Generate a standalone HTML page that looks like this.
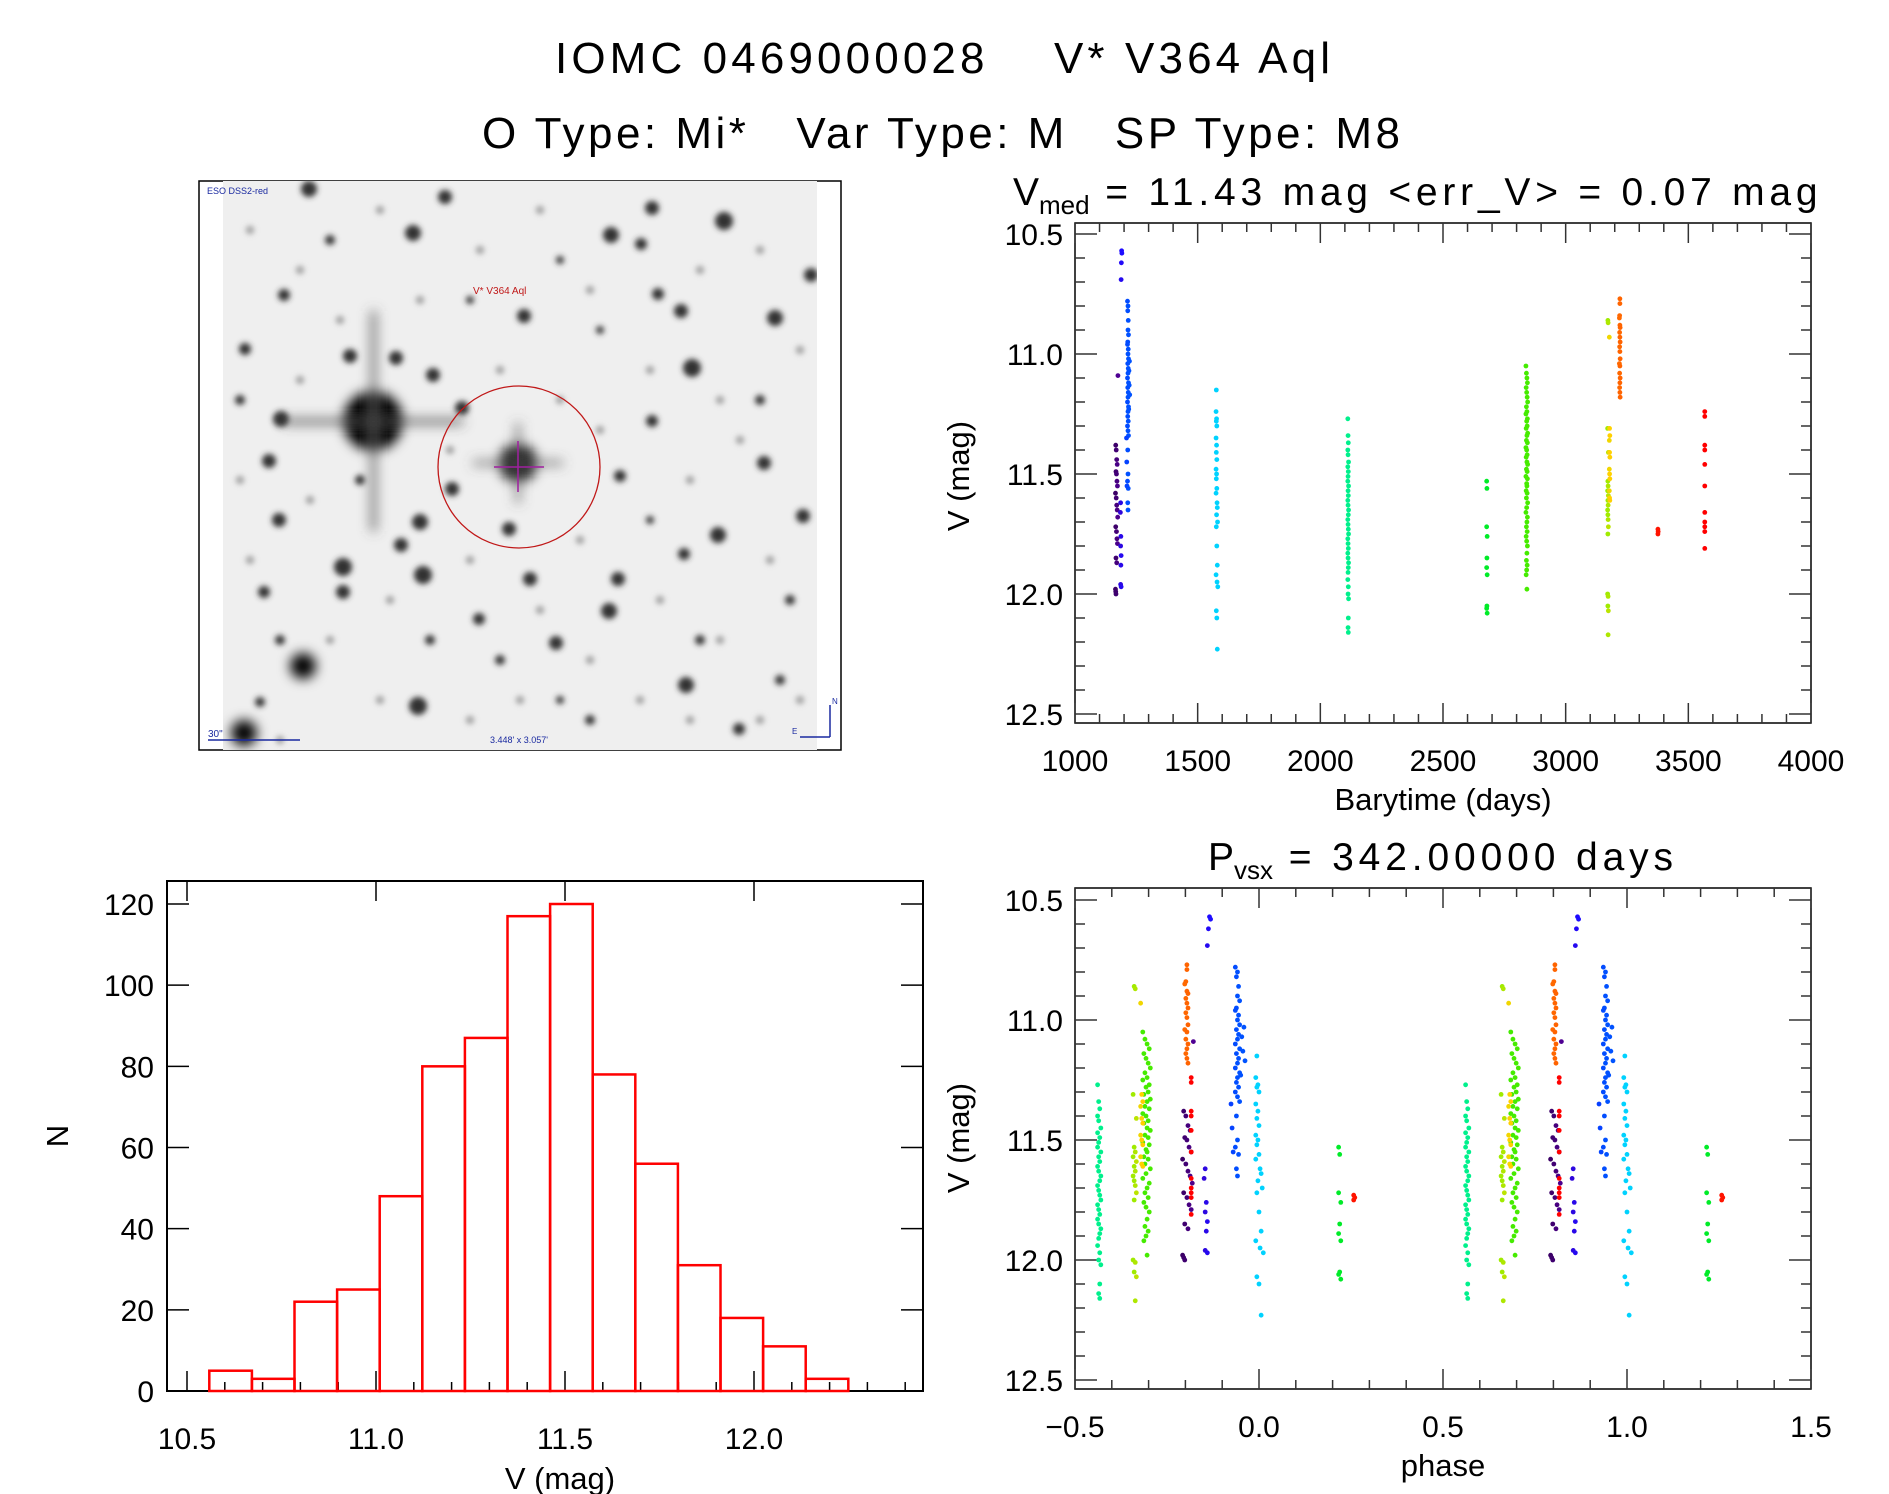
<!DOCTYPE html>
<html><head><meta charset="utf-8"><title>IOMC 0469000028 V* V364 Aql</title>
<style>
html,body{margin:0;padding:0;background:#fff;}
svg{display:block;font-family:"Liberation Sans",sans-serif;}
text{white-space:pre;}
</style></head>
<body>
<svg id="fig" width="1889" height="1494" viewBox="0 0 1889 1494" xmlns="http://www.w3.org/2000/svg" xml:space="preserve">
<defs>
  <filter id="blur2" x="-50%" y="-50%" width="200%" height="200%"><feGaussianBlur stdDeviation="3"/></filter>
  <filter id="blur5" x="-50%" y="-50%" width="200%" height="200%"><feGaussianBlur stdDeviation="6"/></filter>
  <clipPath id="imgclip"><rect x="223" y="181" width="594" height="569"/></clipPath>
</defs>
<text x="555" y="73" font-size="44" textLength="775" lengthAdjust="spacing">IOMC 0469000028    V* V364 Aql</text>
<text x="482" y="148" font-size="44" textLength="918" lengthAdjust="spacing">O Type: Mi*   Var Type: M   SP Type: M8</text>

<g>
  <rect x="199" y="181" width="642" height="569" fill="#fff" stroke="#000" stroke-width="1.5"/>
  <rect x="223" y="181" width="594" height="569" fill="#efefef"/>
  <g id="stars" clip-path="url(#imgclip)"></g>
  <circle cx="519" cy="467" r="81" fill="none" stroke="#c01818" stroke-width="1.3"/>
  <line x1="518" y1="441" x2="518" y2="492" stroke="#a020a0" stroke-width="1.5"/>
  <line x1="494" y1="467" x2="544" y2="467" stroke="#a020a0" stroke-width="1.5"/>
  <text x="473" y="294" font-size="10" fill="#c01818">V* V364 Aql</text>
  <text x="207" y="194" font-size="9" fill="#1a2aa0">ESO DSS2-red</text>
  <line x1="208" y1="740" x2="300" y2="740" stroke="#1a2aa0" stroke-width="1.5"/>
  <text x="208" y="737" font-size="10" fill="#1a2aa0">30"</text>
  <text x="490" y="743" font-size="9" fill="#1a2aa0">3.448' x 3.057'</text>
  <path d="M830 737 L830 705 M830 737 L800 737" stroke="#1a2aa0" stroke-width="1.5" fill="none"/>
  <text x="832" y="704" font-size="8" fill="#1a2aa0">N</text>
  <text x="792" y="734" font-size="8" fill="#1a2aa0">E</text>
</g>

<g id="lc"></g>
<g id="ph"></g>
<g id="hist"></g>
</svg>
<script>
// ---------- data: light curve (barytime days, V mag) ----------
const tPurple=[1166,1168,1170,1172,1167,1169,1171,1173,1165,1168,1170,1172,1174,1166,1169,1171,1173,1167,1170,1165,1166,1167,1175];
const mPurple=[11.38,11.40,11.44,11.46,11.49,11.50,11.53,11.55,11.58,11.60,11.63,11.65,11.68,11.72,11.74,11.77,11.79,11.85,11.87,11.98,11.99,12.00,11.09];
const tViolet=[1190,1191,1189,1188,1186,1185,1187,1186,1188,1187,1186,1188];
const mViolet=[10.57,10.58,10.62,10.69,11.62,11.66,11.76,11.80,11.84,11.88,11.96,11.97];
const tBlue=[1214,1216,1215,1217,1216,1218,1215,1214,1217,1216,1218,1215,1217,1216,1214,1218,1215,1217,1216,1214,1218,1216,1215,1217,1214,1216,1218,1215,1216,1214,1217,1215,1216,1222,1220,1221,1223,1219,1210,1211,1212];
const mBlue=[10.78,10.80,10.82,10.86,10.90,10.92,10.95,10.96,10.98,11.00,11.02,11.04,11.06,11.08,11.10,11.12,11.14,11.16,11.18,11.20,11.22,11.24,11.26,11.28,11.30,11.32,11.34,11.40,11.50,11.53,11.56,11.62,11.65,11.03,11.07,11.13,11.17,11.23,11.35,11.45,11.55];
const tCyan=[1576,1575,1577,1576,1578,1575,1577,1576,1578,1575,1577,1576,1578,1575,1579,1580,1577,1581,1576,1578,1580,1575,1579,1582,1576,1578,1580];
const mCyan=[11.15,11.24,11.27,11.28,11.30,11.35,11.38,11.41,11.44,11.48,11.50,11.52,11.56,11.58,11.62,11.64,11.67,11.70,11.72,11.80,11.88,11.92,11.95,11.97,12.07,12.10,12.23];
const tTeal=[2112,2113,2114,2112,2113,2115,2112,2114,2113,2112,2115,2113,2114,2112,2113,2115,2114,2112,2113,2114,2115,2112,2113,2114,2112,2113,2115,2114,2113,2112,2114,2113,2115,2114,2113,2114];
const mTeal=[11.27,11.34,11.37,11.40,11.42,11.45,11.47,11.49,11.51,11.53,11.55,11.57,11.59,11.61,11.63,11.65,11.67,11.69,11.71,11.73,11.75,11.77,11.79,11.81,11.83,11.85,11.87,11.89,11.91,11.94,11.97,12.00,12.02,12.10,12.14,12.16];
const tGreen1=[2678,2679,2678,2680,2679,2678,2680,2679,2678,2680];
const mGreen1=[11.53,11.56,11.72,11.76,11.85,11.89,11.92,12.05,12.06,12.08];
const tGreen2=[2838,2840,2842,2844,2839,2841,2843,2845,2840,2842,2838,2844,2841,2843,2839,2845,2842,2840,2844,2838,2841,2843,2839,2842,2845,2840,2843,2838,2844,2841,2842,2839,2843,2840,2845,2841,2838,2844,2842,2840,2843,2839,2841,2844,2842,2840,2843,2841,2839,2842];
const mGreen2=[11.05,11.08,11.10,11.12,11.14,11.16,11.18,11.20,11.22,11.24,11.25,11.27,11.28,11.30,11.31,11.33,11.34,11.36,11.37,11.39,11.40,11.42,11.43,11.45,11.46,11.48,11.49,11.51,11.52,11.54,11.55,11.57,11.58,11.60,11.62,11.64,11.66,11.68,11.70,11.72,11.74,11.76,11.78,11.80,11.83,11.86,11.88,11.90,11.92,11.98];
const tLime=[3172,3173,3171,3174,3172,3173,3171,3174,3172,3173,3171,3172,3173,3174,3172,3171,3173,3172,3174,3173];
const mLime=[10.86,10.87,11.31,11.41,11.53,11.55,11.57,11.59,11.61,11.63,11.65,11.67,11.69,11.72,11.75,12.00,12.01,12.05,12.07,12.17];
const tYellow=[3178,3179,3180,3178,3179,3180,3178,3179,3180,3178,3179,3180];
const mYellow=[10.93,11.31,11.34,11.36,11.41,11.43,11.48,11.50,11.52,11.57,11.60,11.61];
const tOrange=[3221,3221,3220,3219,3221,3222,3220,3221,3222,3220,3221,3222,3219,3221,3220,3222,3221,3220,3221,3222];
const mOrange=[10.77,10.79,10.84,10.85,10.88,10.89,10.91,10.93,10.95,10.97,10.99,11.02,11.04,11.05,11.08,11.10,11.12,11.14,11.16,11.18];
const tRed1=[3376,3377,3376];
const mRed1=[11.73,11.74,11.75];
const tRed2=[3567,3567,3567,3567,3567,3567,3567,3567,3567,3567,3567];
const mRed2=[11.24,11.26,11.38,11.40,11.46,11.55,11.66,11.70,11.72,11.74,11.81];
// period and epoch
const period=342.0;
const epoch=1236;
// ---------- data: histogram ----------
const histStart=10.559;
const histWidth=0.1127;
const histCounts=[5,3,22,25,48,80,87,117,120,78,56,31,18,11,3];
const lcXTicks=[1000,1500,2000,2500,3000,3500,4000];
const magTicks=["10.5","11.0","11.5","12.0","12.5"];
const phTicks=["\u22120.5","0.0","0.5","1.0","1.5"];
const histXTicks=["10.5","11.0","11.5","12.0"];
const histYTicks=[0,20,40,60,80,100,120];

const NS="http://www.w3.org/2000/svg";
function mk(parent,tag,attrs,txt){const e=document.createElementNS(NS,tag);for(const k in attrs)e.setAttribute(k,attrs[k]);if(txt!==undefined)e.textContent=txt;parent.appendChild(e);return e;}

// colour ramp over time (style, not data)
const stops=[[1160,[50,0,80]],[1176,[80,0,150]],[1190,[30,10,255]],[1216,[0,80,255]],[1575,[0,210,255]],[2113,[0,240,140]],[2679,[0,235,40]],[2842,[70,235,0]],[3172,[160,235,0]],[3179,[255,210,0]],[3221,[255,100,0]],[3376,[255,20,0]],[3567,[255,0,0]]];
function colorOf(t){
  if(t<=stops[0][0])return 'rgb('+stops[0][1].join(',')+')';
  for(let i=1;i<stops.length;i++){if(t<=stops[i][0]){const a=stops[i-1],b=stops[i];const f=(t-a[0])/(b[0]-a[0]);const c=a[1].map((v,j)=>Math.round(v+(b[1][j]-v)*f));return 'rgb('+c.join(',')+')';}}
  return 'rgb(255,0,0)';
}
const allT=[].concat(tPurple,tViolet,tBlue,tCyan,tTeal,tGreen1,tGreen2,tLime,tYellow,tOrange,tRed1,tRed2);
const allM=[].concat(mPurple,mViolet,mBlue,mCyan,mTeal,mGreen1,mGreen2,mLime,mYellow,mOrange,mRed1,mRed2);

// ---------- generic right-hand panel frame ----------
const PX0=1075,PX1=1811;
function magFrame(g,top,bottom,m0y){
  mk(g,'rect',{x:PX0,y:top,width:PX1-PX0,height:bottom-top,fill:'none',stroke:'#000','stroke-width':1.5});
  const ys=m=>m0y+(m-10.5)*240;
  for(let k=0;k<=20;k++){const m=10.5+k*0.1;const y=ys(m);if(y>bottom)break;const major=k%5===0;const L=major?22:10;
    mk(g,'line',{x1:PX0,y1:y,x2:PX0+L,y2:y,stroke:'#333','stroke-width':1.5});
    mk(g,'line',{x1:PX1,y1:y,x2:PX1-L,y2:y,stroke:'#333','stroke-width':1.5});}
  magTicks.forEach((s,i)=>{const t=mk(g,'text',{x:1063,y:ys(parseFloat(s))+11,'font-size':30,'text-anchor':'end'},s);
    
    });
  return ys;
}

// ---------- light curve ----------
(function(){
  const g=document.getElementById('lc');
  const ys=magFrame(g,223,723,234);
  const xs=t=>PX0+(t-1000)/3000*(PX1-PX0);
  for(let t=1000;t<=4000;t+=100){const x=xs(t);const major=(t%500===0);const L=major?20:9;
    mk(g,'line',{x1:x,y1:723,x2:x,y2:723-L,stroke:'#333','stroke-width':1.5});
    mk(g,'line',{x1:x,y1:223,x2:x,y2:223+L,stroke:'#333','stroke-width':1.5});}
  lcXTicks.forEach(v=>{const t=mk(g,'text',{x:xs(v),y:771,'font-size':30,'text-anchor':'middle'},String(v));
    
    });
  const xl=mk(g,'text',{x:1443,y:810,'font-size':31,'text-anchor':'middle'},'Barytime (days)');
  
  
  const yl=mk(g,'text',{x:0,y:0,'font-size':31,'text-anchor':'middle',transform:'translate(969,476) rotate(-90)'},'V (mag)');
  
  
  const ti=mk(g,'text',{x:1013,y:205,'font-size':39});
  
  
  mk(ti,'tspan',{},'V');
  mk(ti,'tspan',{'font-size':26,dy:9},'med');
  mk(ti,'tspan',{dy:-9,textLength:728,lengthAdjust:'spacing'},' = 11.43 mag <err_V> = 0.07 mag');
  for(let i=0;i<allT.length;i++){
    const c=mk(g,'circle',{cx:xs(allT[i]),cy:ys(allM[i]),r:2.4,fill:colorOf(allT[i])});
    
    
  }
})();

// ---------- phase plot ----------
(function(){
  const g=document.getElementById('ph');
  const ys=magFrame(g,888,1389,900);
  const xs=p=>PX0+(p+0.5)/2*(PX1-PX0);
  for(let k=0;k<=20;k++){const p=-0.5+k*0.1;const x=xs(p);const major=k%5===0;const L=major?20:9;
    mk(g,'line',{x1:x,y1:1389,x2:x,y2:1389-L,stroke:'#333','stroke-width':1.5});
    mk(g,'line',{x1:x,y1:888,x2:x,y2:888+L,stroke:'#333','stroke-width':1.5});}
  phTicks.forEach((s,i)=>{const t=mk(g,'text',{x:xs(-0.5+i*0.5),y:1437,'font-size':30,'text-anchor':'middle'},s);
    
    });
  const xl=mk(g,'text',{x:1443,y:1476,'font-size':31,'text-anchor':'middle'},'phase');
  
  
  const yl=mk(g,'text',{x:0,y:0,'font-size':31,'text-anchor':'middle',transform:'translate(969,1138) rotate(-90)'},'V (mag)');
  
  
  const ti=mk(g,'text',{x:1208,y:870,'font-size':39});
  
  
  mk(ti,'tspan',{},'P');
  mk(ti,'tspan',{'font-size':26,dy:9},'vsx');
  mk(ti,'tspan',{dy:-9,textLength:400,lengthAdjust:'spacing'},' = 342.00000 days');
  for(let i=0;i<allT.length;i++){
    let ph=(allT[i]-epoch)/period;ph=ph-Math.floor(ph);if(ph>=0.5)ph-=1;
    [ph,ph+1].forEach(p=>{
      const c=mk(g,'circle',{cx:xs(p),cy:ys(allM[i]),r:2.4,fill:colorOf(allT[i])});
      
      
    });
  }
})();

// ---------- histogram ----------
(function(){
  const g=document.getElementById('hist');
  const L=167,R=923,T=881,B=1391;
  const xs=v=>187+(v-10.5)*378;
  const ys=n=>B-n*(B-904)/120;
  mk(g,'rect',{x:L,y:T,width:R-L,height:B-T,fill:'none',stroke:'#000','stroke-width':2});
  for(let k=0;k<=19;k++){const v=10.5+k*0.1;const x=xs(v);if(x>R)break;const major=k%5===0;
    mk(g,'line',{x1:x,y1:B,x2:x,y2:B-(major?20:9),stroke:'#000','stroke-width':1.5});
    if(major)mk(g,'line',{x1:x,y1:T,x2:x,y2:T+20,stroke:'#000','stroke-width':1.5});}
  histYTicks.forEach(n=>{const y=ys(n);
    mk(g,'line',{x1:L,y1:y,x2:L+22,y2:y,stroke:'#000','stroke-width':1.5});
    mk(g,'line',{x1:R,y1:y,x2:R-22,y2:y,stroke:'#000','stroke-width':1.5});
    const t=mk(g,'text',{x:154,y:y+11,'font-size':30,'text-anchor':'end'},String(n));
    
    });
  histXTicks.forEach(s=>{const t=mk(g,'text',{x:xs(parseFloat(s)),y:1449,'font-size':30,'text-anchor':'middle'},s);
    
    });
  const xl=mk(g,'text',{x:560,y:1489,'font-size':31,'text-anchor':'middle'},'V (mag)');
  
  
  const yl=mk(g,'text',{x:0,y:0,'font-size':31,'text-anchor':'middle',transform:'translate(68,1136) rotate(-90)'},'N');
  
  
  histCounts.forEach((n,i)=>{
    const x0=xs(histStart+i*histWidth),x1=xs(histStart+(i+1)*histWidth);
    const r=mk(g,'rect',{x:x0,y:ys(n),width:x1-x0,height:B-ys(n),fill:'none',stroke:'#ff0000','stroke-width':2.5});
    
    
  });
})();

// ---------- sky image stars (decorative) ----------
(function(){
  const g=document.getElementById('stars');
  const big=[[373,421,30],[518,463,19],[303,666,13],[244,733,13]];
  const mid=[[418,706,9],[343,567,9],[423,575,9],[609,611,8],[692,368,9],[724,221,9],[611,235,8],[309,189,8],[413,233,8],[652,208,7],[775,318,8],[764,463,7],[718,535,8],[686,685,8],[420,522,8],[401,545,7],[281,419,8],[269,461,7],[350,356,7],[396,358,7],[433,375,7],[462,408,7],[452,489,7],[509,529,7],[530,579,7],[556,643,7],[620,476,6],[652,421,6],[811,275,7],[803,516,7],[739,729,6],[681,311,7],[524,316,7],[658,294,6],[279,520,7],[343,592,7],[264,592,6],[479,619,6],[684,554,6],[618,579,7],[284,295,6],[245,349,6],[445,197,7],[641,244,6],[260,702,5],[330,240,5],[560,260,4],[700,640,5],[590,720,5],[470,300,4],[760,400,5],[500,660,5],[360,480,5],[240,400,5],[790,600,5],[650,520,4],[430,640,5],[280,640,5],[600,330,4],[780,680,5],[560,700,4]];
  const faint=[[250,230],[300,270],[380,210],[480,250],[540,210],[590,290],[700,270],[760,250],[800,350],[740,440],[690,480],[660,600],[720,640],[770,560],[800,700],[640,700],[590,660],[540,610],[470,560],[390,600],[330,640],[250,560],[240,480],[300,380],[340,320],[420,300],[500,370],[560,400],[600,430],[650,370],[720,400],[580,540],[450,450],[310,500],[380,700],[470,720],[690,720],[760,720],[520,700],[280,740]];
  const fg=mk(g,'g',{filter:'url(#blur2)'});
  faint.forEach(s=>mk(fg,'circle',{cx:s[0],cy:s[1],r:4,fill:'#999'}));
  const bg=mk(g,'g',{filter:'url(#blur2)'});
  mid.forEach(s=>mk(bg,'circle',{cx:s[0],cy:s[1],r:s[2],fill:'#333'}));
  const bb=mk(g,'g',{filter:'url(#blur5)'});
  big.forEach(s=>mk(bb,'circle',{cx:s[0],cy:s[1],r:s[2],fill:'#000'}));
  mk(bb,'rect',{x:373-90,y:419,width:180,height:5,fill:'#444'});
  mk(bb,'rect',{x:371,y:421-110,width:5,height:220,fill:'#555'});
  mk(bb,'rect',{x:518-45,y:461,width:90,height:4,fill:'#555'});
  mk(bb,'rect',{x:516,y:463-40,width:4,height:80,fill:'#555'});
})();
</script>
</body></html>
